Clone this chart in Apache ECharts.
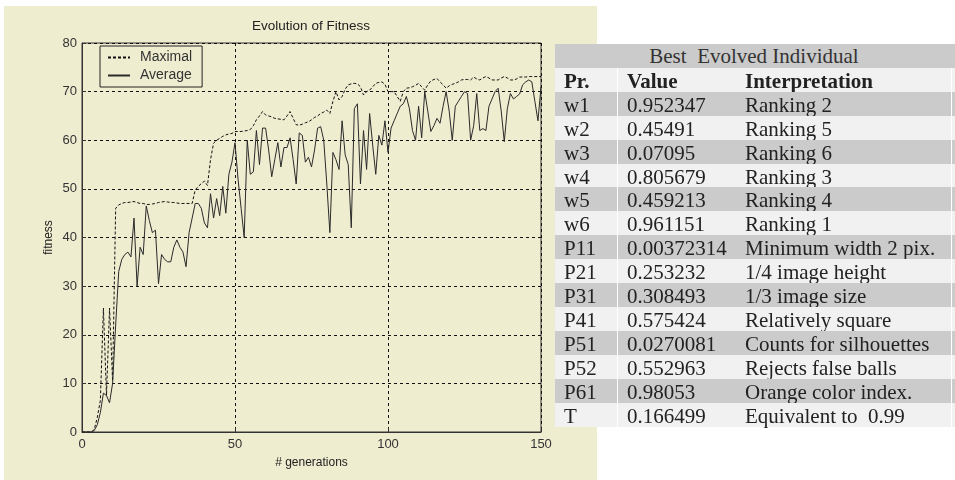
<!DOCTYPE html>
<html>
<head>
<meta charset="utf-8">
<script src="https://cdn.jsdelivr.net/npm/echarts@6/dist/echarts.min.js"></script>
<style>
  html, body { margin: 0; padding: 0; background: #ffffff; }
  #wrap { position: relative; width: 955px; height: 480px; overflow: hidden; }
  #chart { position: absolute; left: 0; top: 0; width: 955px; height: 480px; }
  #tbl { position: absolute; left: 555px; top: 44px; width: 400px; font-family: "Liberation Serif", "Times New Roman", serif; font-size: 21px; color: #222; }
  .row { position: absolute; left: 0; width: 400px; height: 24px; line-height: 24px; white-space: nowrap; }
  .gray { background: #cbcbcb; }
  .light { background: #f1f1f1; }
  .c1 { position: absolute; left: 9px; top: 1px; }
  .c2 { position: absolute; left: 72px; top: 1px; }
  .c3 { position: absolute; left: 190px; top: 1px; }
  .vl { position: absolute; top: 0; width: 1px; height: 24px; background: #ffffff; }
  .ttl { position: absolute; left: 0; width: 398px; text-align: center; top: 0px; color: #333; }
  .hdr { font-weight: bold; }
</style>
</head>
<body>
<div id="wrap">
  <div id="chart"></div>
  <div id="tbl"></div>
</div>
<script>
// ---- chart data (generation index = array position, 0..150) ----
const maximal = [
  0,0,0,0,0.5,3,6.5,25.5,7.5,25.5,
  10.5,46,46.7,47,47.2,47.2,47.3,47.4,47.2,47,
  47,46.8,46.8,46.9,47,47.2,47.3,47.4,47.3,47.2,
  47.2,47.1,47,47,47,47,47,49.8,50.5,51.1,
  51.6,50.7,56,59.4,60,60.4,60.8,61.1,61.3,61.4,
  61.8,61.8,61.8,61.9,62,62.2,63,64.2,65,65.9,
  65.2,65,64.8,64.5,64.4,64.3,64.2,65,65.9,64.5,
  63.2,63.1,63.3,63.6,63.8,64.2,64.7,65,65.5,65.8,
  66.2,65.5,68,70,68.3,69,70.5,71.4,71.6,71.7,
  71.6,71,69.3,70,70.3,71,71.7,71.9,72,71.5,
  70,70,70,69,68,70,70.7,70.8,71,71.3,
  71.7,71,70.3,71.4,72.2,72.5,72.7,72,71.4,70.7,
  71.2,71.5,71.7,72,72.4,72.5,72.5,72.4,73,72.6,
  72.4,72.8,73.1,72.8,72.4,72.4,72.4,72.8,73.1,72.8,
  72.4,72.4,72.6,73,73,73,73.1,73.1,73.1,73.1,
  73.1
];
const average = [
  0,0,0,0,0.3,1.5,4,8,7.5,6,
  10,22,33,35.5,36.5,37,36,44,30,38,
  36.5,46.5,43.5,41,41.5,30.5,36.5,35.5,35,35,
  38,39.5,38,37,34,41,44,47,47,46,
  43,42,49,44,48,44.5,50.5,45,53,55.5,
  59.5,52,46,40,60,53,53.5,62,55,62.5,
  62.5,58,52.5,56,59.5,54.5,58.5,58.5,60.5,56,
  51,61.5,61,55.5,56.5,54.5,58,62.5,62.8,60,
  51,41,57.5,56,54,64,57,55,42,66.5,
  67.5,51,62,54,65.5,59,53,61,59,64,
  57.5,62.5,64,65.5,67,67.5,69,66.5,62,60,
  67,60.5,70,66,61.8,63,64.5,63.5,67,70,
  66,60,67,68,69,70,69.6,60,63,69.6,
  62,62.4,62,67,68.5,70,70.7,66,59.7,66.5,
  69.6,68.5,69,69.5,71.4,72,72.4,72,68,64,
  71
];
const seriesNames = ["Maximal", "Average"];
const chartTitle = "Evolution of Fitness";
const xName = "# generations";
const yName = "fitness";

// ---- table data ----
const tableTitle = "Best\u00a0 Evolved Individual";
const tableHeader = ["Pr.", "Value", "Interpretation"];
const params = ["w1","w2","w3","w4","w5","w6","P11","P21","P31","P41","P51","P52","P61","T"];
const values = ["0.952347","0.45491","0.07095","0.805679","0.459213","0.961151","0.00372314","0.253232","0.308493","0.575424","0.0270081","0.552963","0.98053","0.166499"];
const interpretations = ["Ranking 2","Ranking 5","Ranking 6","Ranking 3","Ranking 4","Ranking 1","Minimum width 2 pix.","1/4 image height","1/3 image size","Relatively square","Counts for silhouettes","Rejects false balls","Orange color index.","Equivalent to\u00a0 0.99"];

// ---- build table ----
(function () {
  const tbl = document.getElementById('tbl');
  const rowH = 23.9;
  function addRow(i, cls, html) {
    const r = document.createElement('div');
    r.className = 'row ' + cls;
    r.style.top = (i * rowH) + 'px';
    r.innerHTML = html;
    tbl.appendChild(r);
  }
  addRow(0, 'gray', '<span class="ttl">' + tableTitle + '</span>');
  const vl = '<span class="vl" style="left:62px"></span><span class="vl" style="left:396px"></span>';
  addRow(1, 'light hdr', vl + '<span class="c1">' + tableHeader[0] + '</span><span class="c2">' + tableHeader[1] + '</span><span class="c3">' + tableHeader[2] + '</span>');
  for (let k = 0; k < params.length; k++) {
    addRow(k + 2, (k % 2 === 0) ? 'gray' : 'light',
      vl + '<span class="c1">' + params[k] + '</span><span class="c2">' + values[k] + '</span><span class="c3">' + interpretations[k] + '</span>');
  }
})();

// ---- chart ----
const chart = echarts.init(document.getElementById('chart'), null, { renderer: 'canvas' });
const font = '"Liberation Sans", Arial, sans-serif';
const option = {
  animation: false,
  backgroundColor: 'transparent',
  textStyle: { fontFamily: font },
  graphic: [{
    type: 'rect', silent: true, z: -10,
    shape: { x: 4, y: 6, width: 593, height: 474 },
    style: { fill: '#efedd0' }
  }],
  title: {
    text: chartTitle, left: 311, top: 19, padding: 0, textAlign: 'center',
    textStyle: { fontSize: 13.5, fontWeight: 'normal', color: '#222', fontFamily: font }
  },
  legend: {
    data: seriesNames,
    orient: 'vertical',
    left: 100, top: 46,
    padding: [4.5, 10, 4.5, 7],
    itemWidth: 22, itemHeight: 14, itemGap: 4,
    backgroundColor: '#efedd0',
    borderColor: '#222', borderWidth: 1, borderRadius: 0,
    itemStyle: { opacity: 0 },
    textStyle: { fontSize: 14, color: '#333', fontFamily: font, padding: [0, 0, 0, 5] }
  },
  grid: {
    left: 82, top: 43, width: 459, height: 389,
    show: true, borderColor: '#333', borderWidth: 1, backgroundColor: 'transparent'
  },
  xAxis: {
    type: 'value', min: 0, max: 150, interval: 50,
    name: xName, nameLocation: 'middle', nameGap: 25,
    nameTextStyle: { fontSize: 12, color: '#222', fontFamily: font },
    axisLine: { lineStyle: { color: '#333', width: 1 } },
    axisTick: { inside: true, length: 4, lineStyle: { color: '#333' } },
    axisLabel: { fontSize: 13, color: '#333', margin: 6, fontFamily: font },
    splitLine: { show: true, lineStyle: { color: '#111', width: 1, type: [3, 3] } }
  },
  yAxis: {
    type: 'value', min: 0, max: 80, interval: 10,
    name: yName, nameLocation: 'middle', nameGap: 27,
    nameTextStyle: { fontSize: 12, color: '#222', fontFamily: font },
    axisLine: { show: true, lineStyle: { color: '#333', width: 1 } },
    axisTick: { show: true, inside: true, length: 4, lineStyle: { color: '#333' } },
    axisLabel: { fontSize: 13, color: '#333', margin: 5, fontFamily: font },
    splitLine: { show: true, lineStyle: { color: '#111', width: 1, type: [3, 3] } }
  },
  series: [
    {
      name: seriesNames[0], type: 'line', symbol: 'none',
      data: maximal.map((v, i) => [i, v]),
      lineStyle: { color: '#111', width: 1, type: [3, 2] },
      itemStyle: { color: '#111' }, z: 3
    },
    {
      name: seriesNames[1], type: 'line', symbol: 'none',
      data: average.map((v, i) => [i, v]),
      lineStyle: { color: '#2a2a2a', width: 1 },
      itemStyle: { color: '#2a2a2a' }, z: 4
    }
  ]
};
chart.setOption(option);
</script>
</body>
</html>
